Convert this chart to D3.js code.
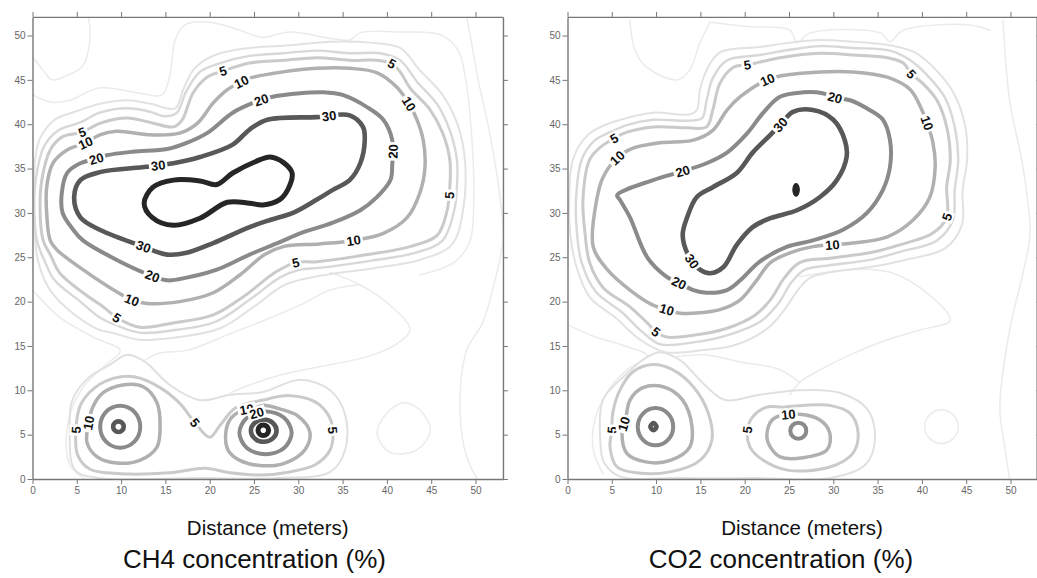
<!DOCTYPE html>
<html><head><meta charset="utf-8">
<script src="https://cdn.jsdelivr.net/npm/d3@7"></script>
<style>body{margin:0;background:#fff}svg{display:block}</style>
</head><body>
<svg id="chart" width="1037" height="578"></svg>
<script>
// ---------- tick labels & texts ----------
const xTicks = [0,5,10,15,20,25,30,35,40,45,50];
const yTicks = [0,5,10,15,20,25,30,35,40,45,50];
const xAxisTitle = "Distance (meters)";
const panelTitles = ["CH4 concentration (%)", "CO2 concentration (%)"];
const xDomainMax = [53.1, 52.95];
const yDomainMax = 52.1;

// ---------- CH4 contours (data units: metres) ----------
const ch4_L40 = [[12.6,31.1],[13.6,32.9],[15.9,33.7],[18.9,33.6],[20.8,33.2],[22.6,34.5],[25.7,36.0],[26.8,36.3],[28.3,35.7],[29.3,34.5],[28.8,32.6],[27.9,31.5],[26.0,30.9],[24.5,31.1],[22.0,31.2],[18.9,29.4],[15.9,28.6],[13.5,29.5]];
const ch4_L30 = [[4.7,31.8],[5.4,33.7],[7.6,34.6],[12.9,35.2],[15.9,35.6],[18.9,36.3],[22.6,37.7],[24.5,39.4],[26.5,40.5],[32.1,40.8],[35.8,41.0],[37.3,39.7],[37.5,38.2],[37.0,35.6],[35.8,33.7],[33.9,32.6],[32.1,31.5],[29.4,30.0],[26.8,29.2],[24.5,28.4],[20.4,26.6],[17.4,25.5],[15.2,25.3],[12.5,26.2],[7.6,28.1],[5.4,29.5]];
const ch4_L20 = [[7.2,36.1],[8.4,36.5],[11.3,36.9],[15.2,37.2],[17.4,37.9],[19.7,39.0],[22.6,41.3],[24.9,42.4],[27.1,43.1],[30.2,43.5],[32.8,43.6],[35.0,43.3],[37.8,41.9],[39.6,40.5],[40.6,38.2],[40.6,35.4],[40.4,33.7],[38.9,31.8],[37.0,30.3],[33.9,28.9],[30.2,27.7],[27.9,26.7],[24.5,25.3],[20.8,23.6],[17.4,22.7],[15.2,22.4],[13.5,22.9],[9.9,24.5],[5.7,26.9],[4.6,28.1],[3.4,30.0],[3.3,32.2],[3.9,34.5],[5.4,35.6]];
const ch4_L10 = [[11.2,20.2],[12.9,19.8],[16.6,20.0],[20.4,21.0],[23.4,23.0],[26.2,25.3],[28.3,26.2],[32.4,26.5],[36.2,26.9],[39.6,27.7],[42.3,29.5],[43.7,32.2],[44.3,35.2],[44.1,38.2],[43.4,40.5],[42.5,42.3],[41.1,44.2],[38.9,45.8],[35.8,46.3],[32.1,46.3],[28.3,45.9],[24.5,45.2],[23.6,44.8],[22.0,43.9],[20.4,42.4],[18.6,40.1],[16.6,39.0],[13.3,38.8],[9.5,39.2],[7.6,38.8],[6.0,37.9],[3.9,37.1],[2.3,35.6],[1.6,32.9],[1.6,30.0],[2.0,26.9],[2.8,25.8],[5.7,23.6],[8.7,21.6]];
const ch4_L5 = [[9.5,18.2],[12.1,17.1],[15.9,17.6],[20.4,18.5],[24.0,20.7],[27.4,23.3],[29.7,24.4],[32.1,24.5],[37.8,25.3],[42.6,26.2],[45.7,27.5],[46.8,30.3],[47.1,32.9],[47.1,36.0],[46.3,39.0],[44.9,41.6],[42.6,44.1],[41.5,45.9],[40.6,46.8],[38.9,47.2],[35.8,47.2],[32.1,47.5],[28.3,47.2],[24.5,46.9],[21.5,46.0],[19.7,45.3],[18.1,43.5],[16.9,40.5],[15.9,39.7],[13.3,40.2],[10.7,40.7],[7.6,40.1],[5.6,39.1],[3.4,38.6],[2.0,37.1],[1.1,34.0],[0.85,30.7],[1.2,26.9],[2.0,25.3],[3.1,23.2],[5.7,21.0],[8.0,19.4]];
const ch4_T4 = [[9.3,17.4],[12.1,16.5],[16.1,16.8],[20.6,17.7],[24.5,20.2],[27.9,22.7],[30.2,23.6],[32.4,23.8],[38.1,24.6],[43.2,25.5],[46.3,26.9],[47.6,30.3],[47.9,32.9],[47.9,36.0],[47.1,39.3],[45.7,42.2],[43.4,44.8],[41.5,47.2],[39.2,48.0],[35.8,48.0],[32.1,48.3],[28.3,48.0],[24.5,47.7],[21.2,46.9],[18.9,45.9],[17.3,43.6],[16.3,41.3],[14.95,40.9],[13.3,41.4],[10.7,41.8],[7.6,41.3],[5.4,40.2],[2.9,39.3],[1.3,37.5],[0.4,34.0],[0.2,30.7],[0.5,26.9],[1.4,24.5],[2.5,22.4],[5.4,20.0],[7.6,18.2]];
const ch4_T3 = [[8.97,16.5],[12.1,15.7],[16.4,16.0],[21.2,17.0],[25.1,19.5],[28.5,21.9],[32.4,22.9],[38.7,23.8],[43.7,24.7],[47.3,26.4],[48.6,30.3],[48.8,36.0],[48.0,39.9],[46.3,43.3],[43.7,46.1],[41.5,48.6],[38.1,49.2],[33.6,49.3],[29.06,48.9],[24.5,48.6],[20.6,47.8],[18.3,46.3],[17.0,43.9],[16.1,41.8],[13.3,42.3],[10.7,42.7],[7.6,42.3],[4.8,41.4],[2.5,40.5],[0.85,38.4],[0.3,36.0],[0.2,29.2],[0.6,24.7],[1.98,21.3],[4.8,18.5],[7.6,16.8]];
const ch4_F1 = [[0.0,47.6],[1.2,46.1],[2.2,45.0],[3.9,45.5],[5.7,46.6],[6.5,50.0],[6.3,52.2]];
const ch4_F2 = [[0.06,43.3],[1.98,42.5],[4.2,42.7],[7.6,44.1],[12.1,43.5],[14.6,43.3],[15.5,45.5],[16.1,49.5],[17.2,51.2],[20.0,51.5],[23.4,50.6],[25.9,49.8],[29.06,50.4],[33.6,49.7],[35.8,49.5],[36.96,50.3],[41.5,50.4],[46.0,50.1],[48.0,48.4],[48.9,45.0],[49.6,38.2],[49.8,31.5],[49.4,26.9],[47.7,24.5],[43.7,23.0]];
const ch4_FRight = [[49.0,52.1],[49.6,48.9],[50.3,45.0],[51.6,39.0],[52.8,31.5],[53.1,26.9],[52.2,22.4],[50.8,17.6],[49.0,14.5],[48.25,8.1],[49.0,2.5],[50.2,0.0]];
const ch4_FLobe = [[33.6,23.3],[36.96,21.9],[40.35,19.6],[42.6,16.8],[40.9,15.1],[37.8,13.8],[32.1,12.6],[27.9,11.7],[24.5,10.6],[22.3,9.7]];
const ch4_FCircle = [[41.8,8.6],[43.7,7.8],[44.9,5.5],[43.4,3.3],[40.35,3.0],[38.9,5.2],[40.0,7.4]];
const ch4_FNeckL = [[0.0,21.3],[3.1,18.2],[7.05,15.9],[9.9,14.5],[8.2,12.8],[5.9,10.6],[4.4,7.8],[3.8,4.4],[4.2,1.6],[5.9,0.0]];
const ch4_FNeckR = [[12.7,13.4],[14.4,14.2],[17.4,14.5],[22.6,16.5],[25.7,17.7],[30.2,19.6],[33.6,21.3],[36.96,21.9]];
const ch4_TLow = [[4.2,5.5],[4.5,8.9],[6.3,11.4],[8.75,12.9],[10.7,14.0],[12.7,13.2],[15.5,10.6],[18.9,8.9],[22.3,9.5],[26.0,9.8],[30.2,11.2],[33.6,10.0],[35.3,7.2],[35.3,3.3],[33.6,0.8],[27.9,0.1],[18.9,0.1],[7.6,0.1],[4.8,1.0]];
const ch4_L5_low = [[4.9,5.5],[5.4,8.3],[7.05,10.3],[9.3,11.4],[11.6,11.5],[14.4,10.3],[16.65,8.5],[18.3,6.4],[20.0,4.7],[21.2,6.1],[22.9,8.0],[26.0,8.9],[29.06,9.4],[31.9,8.7],[33.4,7.2],[33.9,5.5],[33.6,3.3],[31.9,1.6],[29.06,0.8],[25.7,0.45],[22.3,0.7],[19.5,1.2],[15.5,0.7],[9.9,0.6],[6.5,1.1],[5.1,2.7]];
const ch4_L10_lowL = [[6.8,8.1],[7.95,9.7],[10.2,10.6],[12.5,10.4],[14.05,8.6],[14.4,5.9],[14.05,3.6],[12.1,2.1],[9.5,1.8],[7.3,2.5],[6.15,4.1],[6.3,6.1]];
const ch4_L20_lowL = [[12.16,5.9],[11.5,7.58],[9.9,8.27],[8.3,7.58],[7.64,5.9],[8.3,4.22],[9.9,3.53],[11.5,4.22]];
const ch4_L30_lowL = [[10.3,5.9],[10.12,6.32],[9.7,6.5],[9.28,6.32],[9.1,5.9],[9.28,5.48],[9.7,5.3],[10.12,5.48]];
const ch4_L10_lowR = [[21.8,5.0],[22.3,6.7],[23.6,7.7],[25.1,8.0],[26.0,8.3],[27.9,7.9],[29.97,7.1],[31.3,5.3],[30.75,3.3],[28.5,1.8],[25.9,1.5],[23.4,2.1],[22.1,3.2]];
const ch4_L20_lowR = [[29.25,5.2],[28.4,6.9],[26.3,7.6],[24.2,6.9],[23.35,5.2],[24.2,3.5],[26.3,2.8],[28.4,3.5]];
const ch4_L30_lowR = [[27.55,5.45],[27.1,6.35],[26.1,6.7],[25.1,6.35],[24.65,5.45],[25.1,4.55],[26.1,4.2],[27.1,4.55]];
const ch4_L40_lowR = [[26.65,5.5],[26.47,5.92],[26.05,6.1],[25.63,5.92],[25.45,5.5],[25.63,5.08],[26.05,4.9],[26.47,5.08]];
const ch4Labels = [[5,5.6,39.1],[5,21.5,46.0],[5,40.6,46.9],[5,47.0,32.0],[5,29.7,24.4],[5,9.5,18.2],[5,4.9,5.5],[5,18.3,6.4],[5,33.9,5.5],
  [10,6.0,37.9],[10,23.6,44.8],[10,42.5,42.3],[10,36.2,26.9],[10,11.2,20.2],[10,6.5,6.3],[10,24.2,7.8],
  [20,7.2,36.1],[20,25.9,42.7],[20,40.6,36.9],[20,13.5,22.9],[20,25.4,7.2],
  [30,14.2,35.2],[30,33.5,40.8],[30,12.5,26.2]];

// ---------- CO2 contours ----------
const co2_L40 = [[25.95,32.6],[25.8,33.1],[25.65,32.6],[25.8,32.1]];
const co2_L30 = [[23.98,39.9],[22.9,38.8],[20.9,36.8],[19.1,34.5],[16.4,32.9],[14.6,31.8],[13.5,29.5],[13.0,27.5],[13.6,25.3],[14.95,23.6],[16.1,23.2],[17.6,23.9],[19.1,26.4],[20.9,28.4],[22.9,29.4],[25.9,30.3],[28.5,31.8],[30.4,33.7],[31.5,36.3],[31.3,38.2],[30.0,40.5],[27.7,41.6],[25.45,41.4]];
const co2_L20 = [[5.6,32.0],[9.65,33.7],[13.0,34.7],[15.7,35.6],[18.0,36.8],[20.3,39.0],[22.1,41.3],[23.98,43.1],[26.6,43.6],[28.8,43.5],[30.2,43.0],[31.9,42.7],[34.1,41.6],[35.6,40.5],[36.4,38.2],[36.4,35.2],[35.6,32.6],[33.8,30.0],[31.1,28.1],[27.7,26.9],[24.8,26.2],[21.7,24.5],[19.5,22.4],[18.0,21.3],[15.7,21.0],[14.2,21.3],[12.6,22.1],[11.2,22.8],[9.0,25.0],[7.05,29.5],[5.9,31.5]];
const co2_L10 = [[5.6,36.2],[7.4,37.3],[10.4,37.9],[14.2,38.2],[16.4,39.3],[18.0,41.6],[19.5,43.1],[22.5,45.0],[24.3,45.5],[28.5,45.9],[32.2,45.9],[36.1,45.3],[38.7,43.9],[40.0,41.6],[40.6,40.1],[41.25,37.9],[41.5,35.2],[40.9,31.8],[39.0,29.2],[36.1,27.3],[32.2,26.6],[29.85,26.4],[27.7,26.2],[25.1,25.5],[22.9,24.4],[21.2,22.2],[19.5,20.2],[17.2,19.1],[12.7,18.7],[11.2,19.1],[9.65,19.6],[7.05,21.3],[4.5,23.6],[2.9,26.2],[3.3,31.5],[4.0,34.0]];
const co2_L5 = [[5.25,38.4],[6.7,39.1],[9.65,39.7],[13.5,39.6],[15.7,39.7],[16.4,41.6],[17.2,44.6],[18.7,46.4],[20.3,46.7],[21.7,47.0],[23.98,47.5],[28.5,48.0],[32.2,47.8],[36.1,47.5],[37.9,46.9],[38.8,45.7],[40.1,44.6],[41.7,42.7],[42.8,39.7],[43.2,36.0],[42.8,32.9],[42.8,29.5],[41.2,27.7],[37.5,26.4],[34.1,25.5],[29.6,24.9],[26.2,24.4],[24.5,22.7],[22.9,20.2],[21.2,18.5],[18.0,17.0],[14.2,16.2],[11.2,16.0],[10.0,16.6],[9.0,17.6],[7.05,19.4],[4.0,21.6],[2.5,24.4],[1.98,27.7],[1.75,31.5],[2.5,36.0],[3.7,37.4]];
const co2_T4 = [[4.8,39.1],[6.7,39.9],[9.65,40.5],[13.8,40.4],[15.2,40.7],[15.7,42.7],[16.4,45.2],[18.0,47.2],[21.7,47.8],[25.1,48.4],[28.5,48.8],[32.2,48.6],[36.4,48.3],[38.7,47.2],[40.9,45.2],[42.6,43.0],[43.7,39.7],[44.1,36.0],[43.7,32.6],[43.5,29.2],[41.7,26.9],[37.5,25.6],[34.1,24.7],[29.6,24.1],[26.8,23.6],[25.3,22.2],[23.8,19.8],[21.7,17.7],[18.0,16.2],[14.2,15.4],[10.4,15.2],[8.2,16.8],[6.15,18.8],[3.2,21.1],[1.6,24.4],[1.07,27.7],[0.96,31.5],[1.6,36.0],[3.1,38.2]];
const co2_T3 = [[4.2,39.9],[6.7,40.7],[9.65,41.3],[13.8,41.1],[14.6,41.6],[14.95,43.9],[15.7,46.1],[17.2,48.1],[21.7,48.7],[25.1,49.2],[28.5,49.5],[32.2,49.3],[36.4,48.9],[39.2,48.1],[41.8,45.9],[43.7,43.3],[44.9,39.7],[45.1,36.0],[44.6,32.6],[44.5,28.6],[42.6,26.0],[38.1,24.7],[34.1,23.9],[29.6,23.3],[27.4,22.7],[26.0,21.3],[24.5,19.1],[22.6,17.0],[18.9,15.1],[14.95,14.5],[11.0,14.3],[8.2,15.7],[5.4,18.2],[2.5,20.5],[0.96,24.1],[0.3,27.7],[0.2,31.5],[0.6,36.0],[2.3,38.8]];
const co2_F1 = [[7.05,51.7],[7.6,48.4],[8.97,46.4],[12.4,45.0],[13.8,46.1],[14.95,49.2],[16.1,51.5]];
const co2_F2 = [[16.1,51.5],[20.6,51.0],[25.1,50.6],[25.9,49.2],[27.4,50.3],[35.3,50.3],[36.4,49.3],[37.9,50.6],[45.4,51.2],[47.7,50.6]];
const co2_FRight = [[49.15,51.7],[49.9,42.7],[51.4,35.2],[52.2,27.7],[51.4,23.2],[49.9,16.8],[48.8,8.1],[49.4,3.3],[49.9,0.0]];
const co2_FLobe = [[26.2,22.8],[31.9,23.6],[36.4,23.3],[40.9,20.7],[43.2,17.9],[39.8,16.8],[36.1,15.7],[31.9,14.0],[28.5,12.3],[26.2,10.9],[25.1,9.5]];
const co2_FCircle = [[44.1,5.9],[43.5,7.25],[42.2,7.8],[40.9,7.25],[40.3,5.9],[40.9,4.55],[42.2,4.0],[43.5,4.55]];
const co2_FNeckL = [[0.0,17.4],[2.9,16.1],[6.15,15.1],[9.0,13.9],[6.7,12.3],[4.6,10.0],[3.1,6.7],[2.9,3.3],[4.0,0.6]];
const co2_FNeckR = [[12.4,13.8],[15.5,14.0],[19.5,13.2],[23.8,12.4],[26.2,10.9]];
const co2_TLow = [[3.7,4.4],[4.0,8.9],[6.5,11.7],[8.75,13.6],[10.4,14.3],[12.7,13.4],[15.5,10.6],[17.8,8.9],[21.7,9.5],[26.2,10.0],[30.8,9.7],[33.9,7.8],[34.7,4.4],[33.6,1.6],[29.6,0.1],[21.7,0.1],[12.7,0.1],[5.9,0.3],[4.1,1.9]];
const co2_L5_lowL = [[5.0,5.5],[4.8,3.6],[5.6,1.35],[7.8,0.7],[11.6,0.8],[14.95,2.1],[16.3,4.4],[15.9,7.4],[14.2,10.4],[11.9,12.3],[9.65,12.9],[7.4,12.1],[5.9,10.0],[5.1,7.4]];
const co2_L10_lowL = [[6.15,5.2],[6.7,2.9],[8.97,1.9],[11.6,2.1],[13.8,3.6],[14.05,5.9],[13.0,8.9],[10.8,10.4],[8.5,10.3],[7.05,8.9],[6.6,7.0]];
const co2_L20_lowL = [[11.93,5.9],[11.34,7.38],[9.93,8.0],[8.52,7.38],[7.93,5.9],[8.52,4.42],[9.93,3.8],[11.34,4.42]];
const co2_L30_lowL = [[10.05,5.9],[9.7,6.3],[9.35,5.9],[9.7,5.5]];
const co2_L5_lowR = [[20.3,5.5],[20.6,3.6],[22.1,2.1],[24.8,1.0],[29.6,1.35],[32.2,2.9],[32.8,5.2],[31.9,7.4],[29.6,8.3],[26.6,8.3],[24.3,8.1],[22.5,8.1],[20.9,7.0]];
const co2_L10_lowR = [[23.6,7.0],[26.2,7.3],[28.5,6.65],[29.6,5.2],[29.3,3.3],[26.6,2.4],[24.0,2.5],[22.9,3.6],[22.5,4.7],[22.9,6.4]];
const co2_L20_lowR = [[26.95,5.45],[26.69,6.09],[26.05,6.35],[25.41,6.09],[25.15,5.45],[25.41,4.81],[26.05,4.55],[26.69,4.81]];
const co2Labels = [[5,5.25,38.4],[5,20.3,46.4],[5,38.8,45.7],[5,42.8,29.5],[5,10.0,16.6],[5,5.0,5.5],[5,20.3,5.5],
  [10,5.6,36.2],[10,22.5,45.2],[10,40.6,40.1],[10,29.85,26.4],[10,11.2,19.1],[10,6.6,6.1],[10,25.0,7.0],
  [20,13.0,34.7],[20,30.2,43.0],[20,12.6,22.1],
  [30,24.0,39.9],[30,14.2,24.7]];

// ---------- assemble ----------
const ch4Lines = [
  {lv:1,pts:ch4_F1,open:true},{lv:1,pts:ch4_F2,open:true},{lv:1,pts:ch4_FRight,open:true},{lv:1,pts:ch4_FLobe,open:true},{lv:1,pts:ch4_FCircle},
  {lv:1,pts:ch4_FNeckL,open:true},{lv:1,pts:ch4_FNeckR,open:true},
  {lv:2,pts:ch4_TLow},{lv:3,pts:ch4_T3},{lv:4,pts:ch4_T4},
  {lv:5,pts:ch4_L5},{lv:5,pts:ch4_L5_low},
  {lv:10,pts:ch4_L10},{lv:10,pts:ch4_L10_lowL},{lv:10,pts:ch4_L10_lowR},
  {lv:20,pts:ch4_L20},{lv:20,pts:ch4_L20_lowL},{lv:20,pts:ch4_L20_lowR},
  {lv:30,pts:ch4_L30},{lv:30,pts:ch4_L30_lowL},{lv:30,pts:ch4_L30_lowR},
  {lv:40,pts:ch4_L40},{lv:40,pts:ch4_L40_lowR}
];
const co2Lines = [
  {lv:1,pts:co2_F1,open:true},{lv:1,pts:co2_F2,open:true},{lv:1,pts:co2_FRight,open:true},{lv:1,pts:co2_FLobe,open:true},{lv:1,pts:co2_FCircle},
  {lv:1,pts:co2_FNeckL,open:true},{lv:1,pts:co2_FNeckR,open:true},
  {lv:2,pts:co2_TLow},{lv:3,pts:co2_T3},{lv:4,pts:co2_T4},
  {lv:5,pts:co2_L5},{lv:5,pts:co2_L5_lowL},{lv:5,pts:co2_L5_lowR},
  {lv:10,pts:co2_L10},{lv:10,pts:co2_L10_lowL},{lv:10,pts:co2_L10_lowR},
  {lv:20,pts:co2_L20},{lv:20,pts:co2_L20_lowL},{lv:20,pts:co2_L20_lowR},
  {lv:30,pts:co2_L30},{lv:30,pts:co2_L30_lowL},
  {lv:40,pts:co2_L40}
];

const style = {
  1:{c:'#ebebeb',w:1.5}, 2:{c:'#e0e0e0',w:2}, 3:{c:'#e2e2e2',w:2}, 4:{c:'#d8d8d8',w:2.4},
  5:{c:'#cacaca',w:3}, 10:{c:'#b0b0b0',w:3.5}, 20:{c:'#8a8a8a',w:4},
  30:{c:'#585858',w:4.6}, 40:{c:'#262626',w:5}
};

const svg = d3.select('#chart');
const FONT = '"Liberation Sans", Arial, sans-serif';
const panels = [
  {left:32.5, lines:ch4Lines, labels:ch4Labels, title:panelTitles[0], titleX:254.5, xmax:xDomainMax[0]},
  {left:567.5, lines:co2Lines, labels:co2Labels, title:panelTitles[1], titleX:781, xmax:xDomainMax[1]}
];
const plotTop = 16.9, plotBottom = 479, pxPerUnit = 8.86;

panels.forEach((P, i) => {
  const right = P.left + P.xmax * pxPerUnit;
  const x = d3.scaleLinear().domain([0, P.xmax]).range([P.left, right]);
  const y = d3.scaleLinear().domain([0, yDomainMax]).range([plotBottom, plotTop]);
  const g = svg.append('g');

  const clipId = 'clip' + i;
  svg.append('clipPath').attr('id', clipId).append('rect')
    .attr('x', P.left).attr('y', plotTop).attr('width', right - P.left).attr('height', plotBottom - plotTop);

  const cg = g.append('g').attr('clip-path', `url(#${clipId})`);
  const line = d3.line().x(d => x(d[0])).y(d => y(d[1]));
  const paths = [];
  P.lines.slice().sort((a, b) => a.lv - b.lv).forEach(c => {
    line.curve(c.open ? d3.curveCatmullRom.alpha(0.5) : d3.curveCatmullRomClosed.alpha(0.5));
    const s = style[c.lv];
    const p = cg.append('path').attr('d', line(c.pts))
      .attr('fill', (c.lv === 40 && i === 1) ? s.c : 'none')
      .attr('stroke', s.c).attr('stroke-width', s.w)
      .attr('stroke-linejoin', 'round').attr('stroke-linecap', 'round');
    paths.push({lv: c.lv, node: p.node()});
  });

  // contour labels, placed on the nearest contour of the same level and turned along it
  P.labels.forEach(([lv, lx, ly]) => {
    const px = x(lx), py = y(ly);
    let best = null;
    paths.filter(p => p.lv === lv).forEach(p => {
      const L = p.node.getTotalLength();
      for (let l = 0; l <= L; l += 1) {
        const pt = p.node.getPointAtLength(l);
        const d = (pt.x - px) ** 2 + (pt.y - py) ** 2;
        if (!best || d < best.d) best = {d, l, L, node: p.node, pt};
      }
    });
    let ang = 0, cx = px, cy = py;
    if (best && best.d < 400) {
      const a = best.node.getPointAtLength(Math.max(0, best.l - 5));
      const b = best.node.getPointAtLength(Math.min(best.L, best.l + 5));
      ang = Math.atan2(b.y - a.y, b.x - a.x) * 180 / Math.PI;
      if (ang > 90) ang -= 180;
      if (ang <= -90) ang += 180;
      cx = best.pt.x; cy = best.pt.y;
    }
    const lg = cg.append('g').attr('transform', `translate(${cx},${cy}) rotate(${ang})`);
    const t = lg.append('text').text(lv).attr('text-anchor', 'middle').attr('dy', '0.36em')
      .attr('font-family', FONT).attr('font-size', 13).attr('font-weight', 'bold').attr('fill', '#111');
    const bb = t.node().getBBox();
    lg.insert('rect', 'text').attr('x', bb.x - 2).attr('y', bb.y + 1)
      .attr('width', bb.width + 4).attr('height', bb.height - 2).attr('fill', '#fff');
  });

  // axes
  const styleAxis = (sel) => {
    sel.selectAll('.domain').attr('stroke', '#777').attr('stroke-width', 1.4);
    sel.selectAll('.tick line').attr('stroke', '#777');
    sel.selectAll('.tick text').attr('fill', '#666').attr('font-family', FONT).attr('font-size', 10);
  };
  g.append('g').attr('transform', `translate(0,${plotBottom})`)
    .call(d3.axisBottom(x).tickValues(xTicks).tickSize(5).tickSizeOuter(0).tickPadding(3)).call(styleAxis);
  g.append('g').attr('transform', `translate(0,${plotTop})`)
    .call(d3.axisTop(x).tickValues(xTicks).tickSize(5).tickSizeOuter(0).tickFormat('')).call(styleAxis);
  g.append('g').attr('transform', `translate(${P.left},0)`)
    .call(d3.axisLeft(y).tickValues(yTicks).tickSize(5).tickSizeOuter(0).tickPadding(2)).call(styleAxis);
  g.append('g').attr('transform', `translate(${right},0)`)
    .call(d3.axisRight(y).tickValues(yTicks).tickSize(5).tickSizeOuter(0).tickFormat('')).call(styleAxis);

  const mid = (P.left + right) / 2;
  g.append('text').text(xAxisTitle).attr('x', mid).attr('y', 535).attr('text-anchor', 'middle')
    .attr('font-family', FONT).attr('font-size', 20.5).attr('fill', '#111');
  g.append('text').text(P.title).attr('x', P.titleX).attr('y', 568).attr('text-anchor', 'middle')
    .attr('font-family', FONT).attr('font-size', 26).attr('fill', '#111');
});
</script>
</body></html>
